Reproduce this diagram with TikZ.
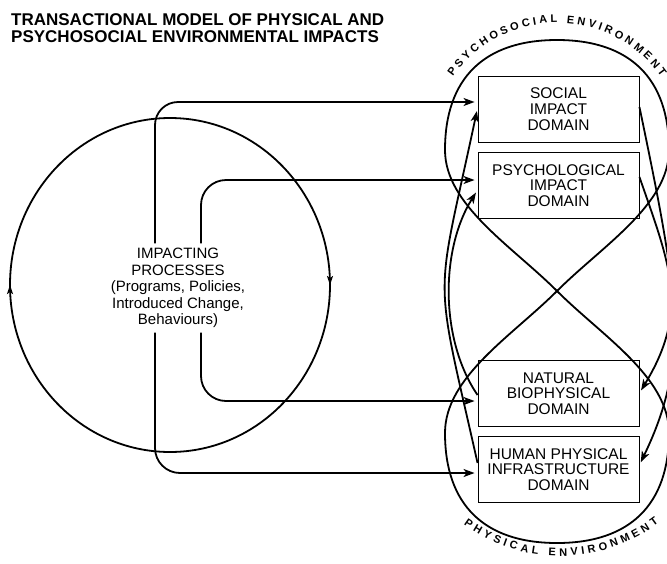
\documentclass[tikz,border=0pt]{standalone}
\usepackage{fontspec}
\setmainfont{Liberation Sans}
\usetikzlibrary{arrows.meta,decorations.markings,decorations.text}

\tikzset{
  heavy/.style={line width=1.8pt},
  flow/.style={heavy, -{Stealth[length=11pt,width=8pt,inset=3pt]}, shorten >=3pt},
  domainbox/.style={draw, line width=0.9pt, minimum width=161pt, minimum height=66pt,
    inner sep=0pt, align=center, font=\fontsize{15.5}{15.7}\selectfont},
  midarrow/.style={decoration={markings,
    mark=at position 0.25 with {\arrow{Stealth[length=9pt,width=6pt,inset=2pt]}},
    mark=at position 0.75 with {\arrow{Stealth[length=9pt,width=6pt,inset=2pt]}}},
    postaction={decorate}},
  arclabel/.style={decorate, decoration={text along path, text align=fit to path,
    text={|\fontsize{11}{11}\bfseries\selectfont|#1}}}
}

\begin{document}
\begin{tikzpicture}[x=1pt,y=-1pt]
  \useasboundingbox (0,0) rectangle (667,563);
  \clip (0,0) rectangle (667,563);

  % title
  \node[anchor=north west, align=left, inner sep=0pt,
        font=\fontsize{17}{17}\bfseries\selectfont] (title) at (11,13)
    {TRANSACTIONAL MODEL OF PHYSICAL AND\\PSYCHOSOCIAL ENVIRONMENTAL IMPACTS};

  % impacting processes: cycle and label
  \draw[heavy, midarrow] (170,118) .. controls (258.4,118) and (330,192.8) .. (330,285)
    .. controls (330,377.2) and (258.4,452) .. (170,452)
    .. controls (81.6,452) and (10,377.2) .. (10,285)
    .. controls (10,192.8) and (81.6,118) .. (170,118) -- cycle;
  \node[align=center, inner sep=0pt, minimum height=89pt,
        font=\fontsize{15}{16.6}\selectfont] (proc) at (178,288)
    {IMPACTING\\PROCESSES\\(Programs, Policies,\\Introduced Change,\\Behaviours)};

  % domains
  \node[domainbox] (social)  at (558.5,109)   {SOCIAL\\IMPACT\\DOMAIN};
  \node[domainbox] (psych)   at (558.5,185.5) {PSYCHOLOGICAL\\IMPACT\\DOMAIN};
  \node[domainbox] (natural) at (558.5,393.5) {NATURAL\\BIOPHYSICAL\\DOMAIN};
  \node[domainbox] (human)   at (558.5,469.5) {HUMAN PHYSICAL\\INFRASTRUCTURE\\DOMAIN};

  % environment figure-eight
  \coordinate (cross) at (557,291);
  \draw[heavy] (cross) .. controls (512,246) and (445,205) .. (445,150)
    .. controls (445,78.5) and (484,40) .. (557,40)
    .. controls (630,40) and (669,78.5) .. (669,150)
    .. controls (669,205) and (602,246) .. (cross)
    .. controls (512,336) and (445,377) .. (445,433)
    .. controls (445,504.5) and (484,543) .. (557,543)
    .. controls (630,543) and (669,504.5) .. (669,433)
    .. controls (669,377) and (602,336) .. (cross);
  \path[arclabel={PSYCHOSOCIAL ENVIRONMENT}]
    (453,77) arc[start angle=-145, end angle=-35, radius=127];
  \path[arclabel={PHYSICAL ENVIRONMENT}]
    (463.6,524.7) arc[start angle=126, end angle=53, radius=164];

  % impacts from the processes
  \coordinate (xo) at (155,0);
  \coordinate (xi) at (201,0);
  \draw[flow, rounded corners=23pt] (proc.north -| xo) |- ([yshift=7pt]social.west);
  \draw[flow, rounded corners=25pt] (proc.north -| xi) |- ([yshift=5.5pt]psych.west);
  \draw[flow, rounded corners=25pt] (proc.south -| xi) |- ([yshift=-7.5pt]natural.west);
  \draw[flow, rounded corners=25pt] (proc.south -| xo) |- ([yshift=-3.5pt]human.west);

  % physical to psychosocial
  \draw[flow] ([yshift=6.5pt]human.west) .. controls (433,265) and (435,308) .. ([yshift=1pt]social.west);
  \draw[flow] ([yshift=-1.5pt]natural.west) .. controls (440,340) and (440,250) .. ([yshift=-4.5pt]psych.west);

  % psychosocial to physical
  \draw[flow] ([yshift=2pt]social.east) .. controls (679,297) and (690,360) .. ([yshift=4.5pt]human.east);
  \draw[flow] ([yshift=8.5pt]psych.east) .. controls (670,265) and (690,310) .. ([yshift=0.5pt]natural.east);
\end{tikzpicture}
\end{document}
